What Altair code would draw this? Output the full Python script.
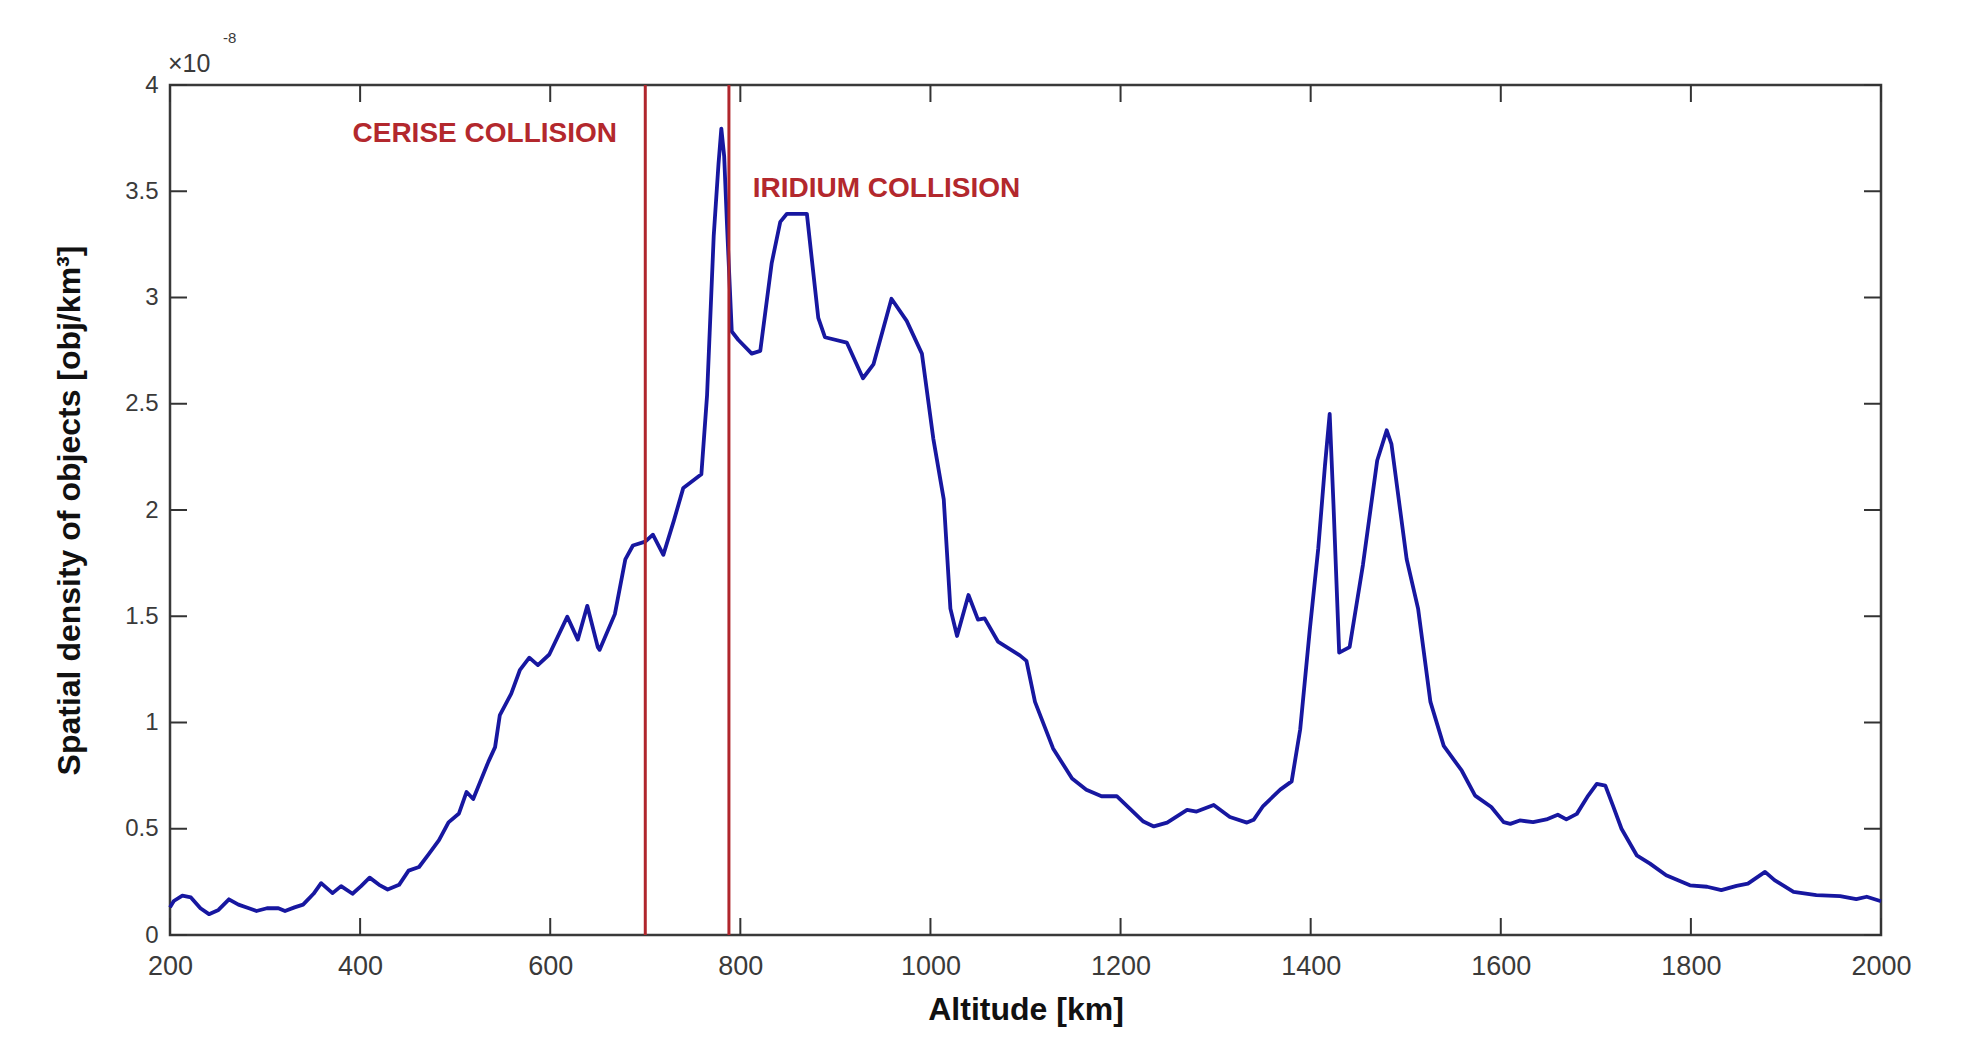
import altair as alt
import pandas as pd

# ---- data (values in units of 1e-8 obj/km^3) ----
altitude = [200, 204, 213, 222, 232, 241, 251, 262, 272, 283, 291, 302, 314, 321, 331, 340,
            351, 359, 371, 380, 392, 401, 410, 420, 429, 441, 451, 462, 472, 483, 493, 504,
            512, 519, 535, 542, 547, 559, 568, 578, 587, 599, 618, 629, 639, 650, 652, 668,
            679, 687, 700, 708, 719, 730, 740, 759, 765, 772, 777, 780, 783, 786, 791, 798,
            812, 821, 833, 842, 849, 870, 875, 882, 889, 912, 929, 940, 959, 975, 991, 1003,
            1014, 1021, 1028, 1040, 1050, 1057, 1071, 1094, 1101, 1110, 1129, 1149, 1164, 1180,
            1196, 1210, 1224, 1235, 1249, 1270, 1280, 1298, 1315, 1333, 1340, 1350, 1368, 1380,
            1389, 1399, 1408, 1415, 1420, 1424, 1430, 1441, 1455, 1470, 1480, 1485, 1501, 1513,
            1526, 1540, 1559, 1573, 1590, 1603, 1610, 1620, 1634, 1648, 1660, 1669, 1680, 1692,
            1701, 1710, 1718, 1727, 1743, 1757, 1774, 1799, 1817, 1832, 1848, 1860, 1878, 1888,
            1908, 1932, 1957, 1974, 1985, 2000]
density = [0.13, 0.16, 0.185, 0.177, 0.126, 0.098, 0.118, 0.168, 0.143, 0.126, 0.113, 0.126,
           0.126, 0.113, 0.13, 0.143, 0.194, 0.244, 0.197, 0.23, 0.194, 0.23, 0.27, 0.236,
           0.214, 0.236, 0.303, 0.32, 0.379, 0.446, 0.53, 0.572, 0.673, 0.64, 0.816, 0.884,
           1.035, 1.136, 1.246, 1.305, 1.27, 1.32, 1.498, 1.39, 1.549, 1.355, 1.342, 1.51,
           1.768, 1.833, 1.851, 1.884, 1.789, 1.949, 2.104, 2.168, 2.54, 3.29, 3.627, 3.795,
           3.665, 3.34, 2.84, 2.80, 2.736, 2.749, 3.162, 3.356, 3.394, 3.394, 3.188, 2.904,
           2.813, 2.788, 2.62, 2.685, 2.994, 2.89, 2.736, 2.336, 2.05, 1.536, 1.407, 1.60,
           1.484, 1.49, 1.381, 1.316, 1.29, 1.097, 0.878, 0.736, 0.684, 0.653, 0.653, 0.594,
           0.534, 0.511, 0.529, 0.589, 0.581, 0.612, 0.555, 0.529, 0.542, 0.607, 0.684, 0.723,
           0.968, 1.433, 1.82, 2.207, 2.452, 2.026, 1.329, 1.355, 1.742, 2.233, 2.375, 2.31,
           1.768, 1.536, 1.097, 0.89, 0.773, 0.656, 0.602, 0.531, 0.523, 0.539, 0.531, 0.544,
           0.566, 0.544, 0.570, 0.656, 0.711, 0.703, 0.609, 0.50, 0.375, 0.336, 0.281, 0.234,
           0.227, 0.211, 0.231, 0.242, 0.297, 0.258, 0.203, 0.188, 0.183, 0.169, 0.18, 0.159]

x_ticks = [200, 400, 600, 800, 1000, 1200, 1400, 1600, 1800, 2000]
y_ticks = [0, 0.5, 1, 1.5, 2, 2.5, 3, 3.5, 4]

collision_alt = [700, 788]
collision_labels = ["CERISE COLLISION", "IRIDIUM COLLISION"]
collision_label_x = [392, 813]
collision_label_y = [3.77, 3.51]

X_TITLE = "Altitude [km]"
Y_TITLE = "Spatial density of objects [obj/km³]"

W, H = 1711, 850
FONT = "Liberation Sans, Arial, Helvetica, sans-serif"
TICK = 17

df = pd.DataFrame({"alt": altitude, "dens": density})
xdf = pd.DataFrame({"alt": x_ticks})
ydf = pd.DataFrame({"dens": y_ticks})
cdf = pd.DataFrame({"alt": collision_alt})
ldf = pd.DataFrame({"alt": collision_label_x, "dens": collision_label_y, "txt": collision_labels})

xs = alt.Scale(domain=[200, 2000], nice=False, zero=False)
ys = alt.Scale(domain=[0, 4], nice=False, zero=True)

x_axis = alt.Axis(values=x_ticks, format="d", ticks=False, domain=False, grid=False,
                  labelFlush=False, labelOverlap=False,
                  labelFontSize=27, labelColor="#3a3a3a", labelPadding=18,
                  labelFont=FONT, titleFont=FONT, titleFontSize=32,
                  titleFontWeight="bold", titleColor="#111111", titlePadding=15)
y_axis = alt.Axis(values=y_ticks, format="~g", ticks=False, domain=False, grid=False,
                  labelFlush=False, labelOverlap=False,
                  labelFontSize=24, labelColor="#3a3a3a", labelPadding=12,
                  labelFont=FONT, titleFont=FONT, titleFontSize=32,
                  titleFontWeight="bold", titleColor="#111111", titlePadding=38)


def X():
    return alt.X("alt:Q", scale=xs, axis=x_axis, title=X_TITLE)


def Y():
    return alt.Y("dens:Q", scale=ys, axis=y_axis, title=Y_TITLE)


line = alt.Chart(df).mark_line(color="#1717a0", strokeWidth=3.8, strokeJoin="round").encode(
    x=X(), y=Y())

rules = alt.Chart(cdf).mark_rule(color="#b0262c", strokeWidth=3).encode(x=X())

labels = alt.Chart(ldf).mark_text(
    align="left", baseline="middle", fontSize=28, fontWeight="bold",
    color="#b3282d", font=FONT
).encode(x=X(), y=Y(), text="txt:N")

tick_style = dict(color="#333333", strokeWidth=2)
bottom_ticks = alt.Chart(xdf).mark_rule(**tick_style).encode(
    x=X(), y=alt.value(H), y2=alt.value(H - TICK))
top_ticks = alt.Chart(xdf).mark_rule(**tick_style).encode(
    x=X(), y=alt.value(0), y2=alt.value(TICK))
left_ticks = alt.Chart(ydf).mark_rule(**tick_style).encode(
    y=Y(), x=alt.value(0), x2=alt.value(TICK))
right_ticks = alt.Chart(ydf).mark_rule(**tick_style).encode(
    y=Y(), x=alt.value(W), x2=alt.value(W - TICK))

exp_base = alt.Chart(pd.DataFrame({"t": ["×10"]})).mark_text(
    align="left", baseline="middle", fontSize=25, color="#3a3a3a", font=FONT
).encode(x=alt.value(-2), y=alt.value(-21), text="t:N")
exp_pow = alt.Chart(pd.DataFrame({"t": ["-8"]})).mark_text(
    align="left", baseline="middle", fontSize=15, color="#3a3a3a", font=FONT
).encode(x=alt.value(53), y=alt.value(-47), text="t:N")

chart = alt.layer(
    line, rules, labels, bottom_ticks, top_ticks, left_ticks, right_ticks, exp_base, exp_pow
).properties(
    width=W, height=H,
    autosize=alt.AutoSizeParams(type="none"),
    padding={"left": 162, "top": 77, "right": 80, "bottom": 100},
    background="white",
).configure_view(
    stroke="#3a3a3a", strokeWidth=2.5
)

chart.save("out.html", embed_options={"renderer": "svg", "actions": False})
